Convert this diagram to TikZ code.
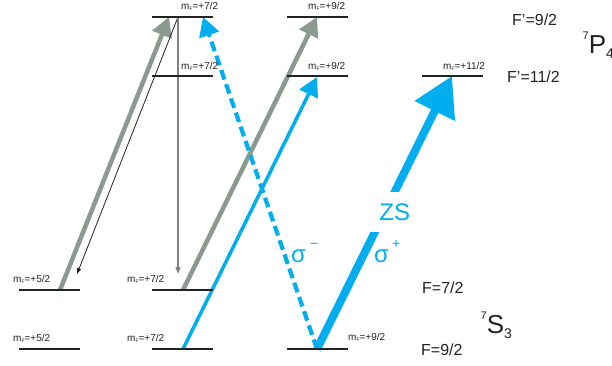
\documentclass[tikz,border=0pt]{standalone}
\usepackage{fontspec}
\setmainfont{Liberation Sans}
\usetikzlibrary{arrows.meta}
\definecolor{zsblue}{RGB}{0,174,239}
\definecolor{pumpgray}{RGB}{138,154,142}
\definecolor{decaygray}{RGB}{128,128,128}
\definecolor{levelblack}{RGB}{34,34,34}
\newcommand{\mFlab}[1]{m\raisebox{-1.5pt}{\fontsize{5}{5}\selectfont F}=#1}
\begin{document}
\begin{tikzpicture}[x=1pt,y=-1pt,
  lvl/.style={fill=levelblack, draw=none, minimum width=61pt, minimum height=2pt, inner sep=0pt},
  mflabel/.style={anchor=base west, inner sep=0pt, font=\fontsize{10}{12}\selectfont, text=levelblack},
  flabel/.style={anchor=base west, inner sep=0pt, font=\fontsize{16}{19}\selectfont, text=levelblack},
  termlabel/.style={anchor=base west, inner sep=0pt, font=\fontsize{26}{30}\selectfont, text=levelblack},
  pumparrow/.style={draw=pumpgray, line width=4.5pt, -{Triangle[length=19pt,width=20pt]}, pumpgray},
  bluearrow/.style={draw=zsblue, line width=3.5pt, -{Triangle[length=19pt,width=20pt]}, zsblue},
  bluedash/.style={draw=zsblue, line width=4.2pt, dash pattern=on 10pt off 5pt, -{Triangle[length=19pt,width=20pt]}, zsblue},
  zsarrow/.style={draw=zsblue, line width=8pt, -{Triangle[length=39pt,width=43pt]}, zsblue},
  decayblack/.style={draw=levelblack, line width=0.8pt, -{Triangle[length=6pt,width=4pt]}},
  decaygrayline/.style={draw=decaygray, line width=1.2pt, -{Triangle[length=7pt,width=5pt]}},
  bluetext/.style={text=zsblue, inner sep=0pt}
]
\useasboundingbox (0,0) rectangle (612,365);

% arrow end points
\coordinate (g1s) at (60,290);
\coordinate (g1e) at (169,17);
\coordinate (ks)  at (178,17);
\coordinate (k1e) at (77,274);
\coordinate (k2e) at (178,274);
\coordinate (g2s) at (183,290);
\coordinate (g2e) at (317,17);
\coordinate (b1s) at (183,349);
\coordinate (b1e) at (317,77);
\coordinate (bds) at (317,349);
\coordinate (bde) at (203,17);
\coordinate (bte) at (452,76);

% arrows
\draw[pumparrow] (g1s) -- (g1e);
\draw[decayblack] (ks) -- (k1e);
\draw[decaygrayline] (ks) -- (k2e);
\draw[pumparrow] (g2s) -- (g2e);
\draw[bluearrow] (b1s) -- (b1e);
\draw[bluedash] (bds) -- (bde);
\draw[zsarrow] (bds) -- (bte);

% ZS label over the thick arrow
\node[fill=white, text=zsblue, inner sep=1pt, text width=40pt, align=right,
      minimum height=40pt, font=\fontsize{24}{28}\selectfont] (zs) at (390,212) {ZS};

% sigma labels
\node[bluetext, anchor=base west, font=\fontsize{24}{28}\selectfont] (sigm) at (291,262)
  {σ\hspace{4pt}\raisebox{14pt}{\fontsize{14}{14}\selectfont −}};
\node[bluetext, anchor=base west, font=\fontsize{24}{28}\selectfont] (sigp) at (374,262)
  {σ\hspace{3pt}\raisebox{14pt}{\fontsize{14}{14}\selectfont +}};

% levels
\node[lvl] (A1) at (182.5,17) {};
\node[lvl] (A2) at (317,17) {};
\node[lvl] (B1) at (182.5,76) {};
\node[lvl] (B2) at (317,76) {};
\node[lvl] (B3) at (452.5,76) {};
\node[lvl] (C1) at (49.5,290) {};
\node[lvl] (C2) at (182.5,290) {};
\node[lvl] (D1) at (49.5,349) {};
\node[lvl] (D2) at (182.5,349) {};
\node[lvl] (D3) at (317,349) {};

% mF labels
\node[mflabel] (mA1) at (181,9) {\mFlab{+7/2}};
\node[mflabel] (mA2) at (308,9) {\mFlab{+9/2}};
\node[mflabel] (mB1) at (181,69) {\mFlab{+7/2}};
\node[mflabel] (mB2) at (308,69) {\mFlab{+9/2}};
\node[mflabel] (mB3) at (443,69) {\mFlab{+11/2}};
\node[mflabel] (mC1) at (13,282) {\mFlab{+5/2}};
\node[mflabel] (mC2) at (127,282) {\mFlab{+7/2}};
\node[mflabel] (mD1) at (13,341) {\mFlab{+5/2}};
\node[mflabel] (mD2) at (127,341) {\mFlab{+7/2}};
\node[mflabel] (mD3) at (348,340) {\mFlab{+9/2}};

% F labels
\node[flabel] (F92p) at (512,25) {F'=9/2};
\node[flabel] (F112p) at (507,82) {F'=11/2};
\node[flabel] (F72) at (422,293) {F=7/2};
\node[flabel] (F92) at (421,355) {F=9/2};

% term labels
\node[termlabel] (P4) at (582.5,53)
  {\raisebox{13.5pt}{\fontsize{11}{11}\selectfont 7}P\raisebox{-5pt}{\fontsize{14}{14}\selectfont 4}};
\node[termlabel] (S3) at (480.5,333)
  {\raisebox{13.5pt}{\fontsize{11}{11}\selectfont 7}S\raisebox{-5pt}{\fontsize{14}{14}\selectfont 3}};
\end{tikzpicture}
\end{document}
